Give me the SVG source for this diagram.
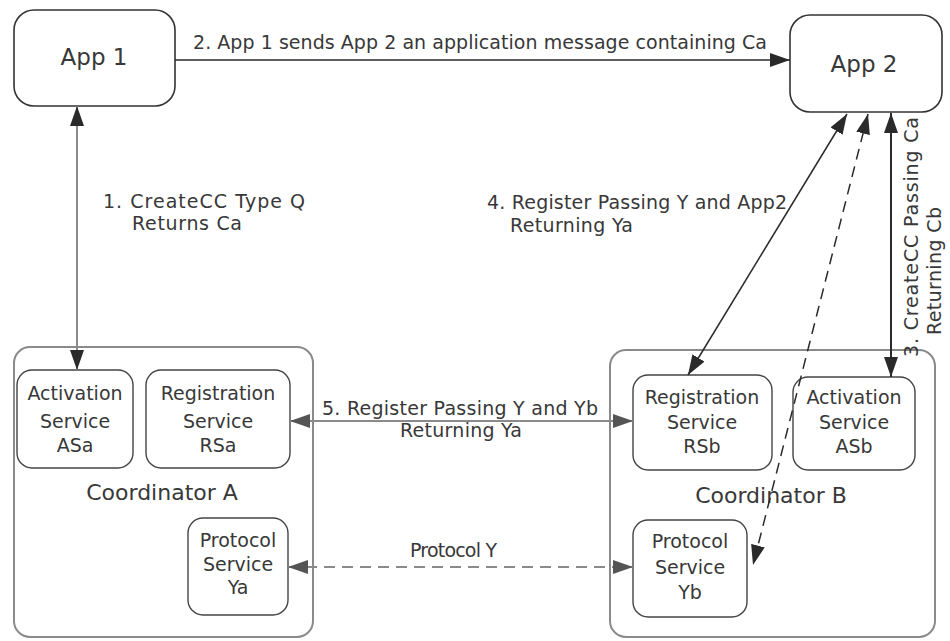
<svg xmlns="http://www.w3.org/2000/svg" width="950" height="641" viewBox="0 0 950 641">
<defs>
<marker id="ah" markerUnits="userSpaceOnUse" markerWidth="20" markerHeight="14" viewBox="0 0 20 14" refX="20" refY="7" orient="auto-start-reverse"><path d="M0,0 L20,7 L0,14 z" fill="#2a2a2a"/></marker>
<marker id="ahg" markerUnits="userSpaceOnUse" markerWidth="20" markerHeight="14" viewBox="0 0 20 14" refX="20" refY="7" orient="auto-start-reverse"><path d="M0,0 L20,7 L0,14 z" fill="#555"/></marker>
<style>
text{font-family:"DejaVu Sans","Liberation Sans",sans-serif;fill:#383838;}
.lbl{font-size:19px;}
.box{font-size:19px;text-anchor:middle;}
.app{font-size:23px;text-anchor:middle;}
.coord{font-size:22px;text-anchor:middle;}
.appbox{fill:#fff;stroke:#333;stroke-width:1.6;}
.cbox{fill:#fff;stroke:#8a8a8a;stroke-width:2;}
.sbox{fill:#fff;stroke:#444;stroke-width:1.4;}
.dark{stroke:#2a2a2a;fill:none;}
.gray{stroke:#8a8a8a;fill:none;}
</style>
</defs>
<rect width="950" height="641" fill="#fff"/>

<g id="app1"><rect class="appbox" x="14" y="10" width="161" height="96" rx="20"/><text class="app" x="94" y="65">App 1</text></g>
<g id="app2"><rect class="appbox" x="790" y="15" width="152" height="97" rx="20"/><text class="app" x="864" y="72">App 2</text></g>

<g id="coordA">
<rect class="cbox" x="14" y="347" width="299" height="290" rx="16"/>
<text class="coord" x="162" y="500">Coordinator A</text>
</g>
<g id="asa"><rect class="sbox" x="17" y="370" width="116" height="98" rx="15"/>
<text class="box" x="75" y="400">Activation</text><text class="box" x="75" y="428">Service</text><text class="box" x="75" y="452">ASa</text></g>
<g id="rsa"><rect class="sbox" x="146" y="370" width="144" height="98" rx="15"/>
<text class="box" x="218" y="400">Registration</text><text class="box" x="218" y="428">Service</text><text class="box" x="218" y="452">RSa</text></g>
<g id="ya"><rect class="sbox" x="188" y="518" width="100" height="97" rx="15"/>
<text class="box" x="238" y="547">Protocol</text><text class="box" x="238" y="571">Service</text><text class="box" x="238" y="594">Ya</text></g>

<g id="coordB">
<rect class="cbox" x="610" y="350" width="325" height="287" rx="16"/>
<text class="coord" x="771" y="503">Coordinator B</text>
</g>
<g id="rsb"><rect class="sbox" x="633" y="375" width="139" height="95" rx="15"/>
<text class="box" x="702" y="404">Registration</text><text class="box" x="702" y="429">Service</text><text class="box" x="702" y="453">RSb</text></g>
<g id="asb"><rect class="sbox" x="793" y="377" width="122" height="93" rx="15"/>
<text class="box" x="854" y="404">Activation</text><text class="box" x="854" y="429">Service</text><text class="box" x="854" y="453">ASb</text></g>
<g id="yb"><rect class="sbox" x="633" y="520" width="114" height="97" rx="15"/>
<text class="box" x="690" y="548">Protocol</text><text class="box" x="690" y="574">Service</text><text class="box" x="690" y="599">Yb</text></g>

<g id="connectors">
<line class="gray" x1="77" y1="106" x2="77" y2="370" stroke-width="2" marker-start="url(#ah)" marker-end="url(#ah)"/>
<line class="dark" x1="175" y1="60" x2="790" y2="60" stroke-width="1.6" marker-end="url(#ah)"/>
<line class="dark" x1="891" y1="113" x2="891" y2="377" stroke-width="2" marker-start="url(#ah)" marker-end="url(#ah)"/>
<line class="dark" x1="847" y1="114" x2="688" y2="375" stroke-width="1.5" marker-start="url(#ah)" marker-end="url(#ah)"/>
<line class="dark" x1="868" y1="114" x2="753" y2="565" stroke-width="1.5" stroke-dasharray="11 7" marker-start="url(#ah)" marker-end="url(#ah)"/>
<line class="gray" x1="290" y1="421" x2="633" y2="421" stroke-width="2" marker-start="url(#ahg)" marker-end="url(#ahg)"/>
<line class="gray" x1="288" y1="567" x2="633" y2="567" stroke-width="2" stroke-dasharray="11 7" marker-start="url(#ahg)" marker-end="url(#ahg)"/>

<text class="lbl" x="193" y="49" textLength="574">2. App 1 sends App 2 an application message containing Ca</text>
<text class="lbl" x="103" y="208" textLength="202">1. CreateCC Type Q</text>
<text class="lbl" x="132" y="230" textLength="110">Returns Ca</text>
<text class="lbl" x="487" y="209" textLength="300">4. Register Passing Y and App2</text>
<text class="lbl" x="510" y="232" textLength="123">Returning Ya</text>
<text class="lbl" x="322" y="415" textLength="276">5. Register Passing Y and Yb</text>
<text class="lbl" x="400" y="437" textLength="122">Returning Ya</text>
<text class="lbl" x="410" y="557" textLength="87">Protocol Y</text>
<text class="lbl" transform="translate(918,357) rotate(-90)" textLength="240">3. CreateCC Passing Ca</text>
<text class="lbl" transform="translate(941,335) rotate(-90)" textLength="128">Returning Cb</text>
</g>
</svg>
